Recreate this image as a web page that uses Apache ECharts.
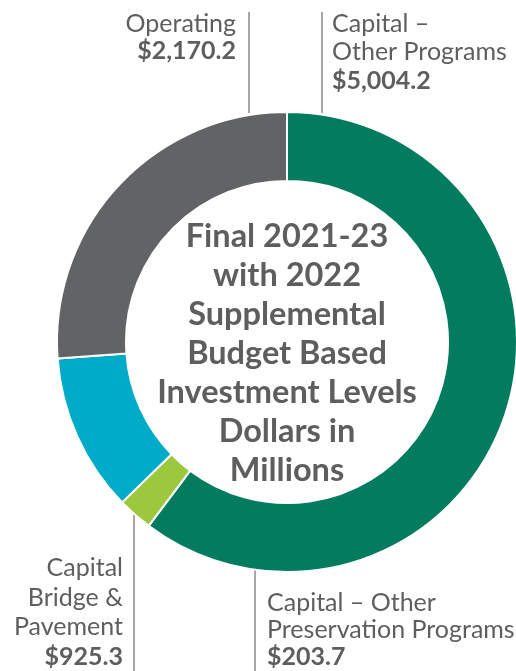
<!DOCTYPE html>
<html>
<head>
<meta charset="utf-8">
<script src="https://cdn.jsdelivr.net/npm/echarts@6/dist/echarts.min.js"></script>
<style>
  html, body { margin: 0; padding: 0; background: #ffffff; }
  #chart { width: 516px; height: 671px; }
</style>
</head>
<body>
<div id="chart"></div>
<script>
// Budget categories, in clockwise order from 12 o'clock
const categories = [
  'Capital – Other Programs',
  'Capital – Other Preservation Programs',
  'Capital Bridge & Pavement',
  'Operating'
];
// Dollars in millions
const values = [5004.2, 203.7, 925.3, 2170.2];
// How each category name is broken into lines in its callout
const labelLines = [
  ['Capital –', 'Other Programs'],
  ['Capital – Other', 'Preservation Programs'],
  ['Capital', 'Bridge &', 'Pavement'],
  ['Operating']
];
const centerTitle = ['Final 2021-23', 'with 2022', 'Supplemental', 'Budget Based', 'Investment Levels', 'Dollars in', 'Millions'];

const colors = ['#037b5f', '#9bc83c', '#00abc8', '#626365'];
const textColor = '#5e5e5e';
const font = 'Lato, "Open Sans", sans-serif';

const fmt = v => '$' + v.toLocaleString('en-US', { minimumFractionDigits: 1, maximumFractionDigits: 1 });

// Callout placement: leader line x, its top/bottom, text anchor, alignment and line spacing
const callouts = [
  { idx: 0, lineX: 322, y1: 12, y2: 113, tx: 332, ty: 9.5, align: 'left', lh: 28.5 },
  { idx: 1, lineX: 255, y1: 570, y2: 671, tx: 267, ty: 589.5, align: 'left', lh: 27 },
  { idx: 2, lineX: 134, y1: 514, y2: 671, tx: 123, ty: 553, align: 'right', lh: 29.7 },
  { idx: 3, lineX: 249, y1: 12, y2: 113, tx: 236, ty: 10.5, align: 'right', lh: 27 }
];

const graphics = [];
callouts.forEach(c => {
  graphics.push({
    type: 'line',
    shape: { x1: c.lineX, y1: c.y1, x2: c.lineX, y2: c.y2 },
    style: { stroke: '#8a8a8a', lineWidth: 1.5 },
    z: 1
  });
  const lines = labelLines[c.idx].map(s => '{n|' + s + '}');
  lines.push('{v|' + fmt(values[c.idx]) + '}');
  graphics.push({
    type: 'text',
    x: c.tx,
    y: c.ty,
    style: {
      text: lines.join('\n'),
      align: c.align,
      verticalAlign: 'top',
      rich: {
        n: { fontFamily: font, fontSize: 25, fill: textColor, lineHeight: c.lh, align: c.align },
        v: { fontFamily: font, fontSize: 25, fontWeight: 'bold', fill: textColor, lineHeight: c.lh, align: c.align }
      }
    },
    z: 2
  });
});

graphics.push({
  type: 'text',
  x: 287,
  y: 353.5,
  style: {
    text: centerTitle.join('\n'),
    align: 'center',
    verticalAlign: 'middle',
    fontFamily: font,
    fontSize: 32.5,
    fontWeight: 'bold',
    lineHeight: 38.9,
    fill: textColor
  },
  z: 3
});

const chart = echarts.init(document.getElementById('chart'), null, { renderer: 'canvas' });
chart.setOption({
  animation: false,
  backgroundColor: '#ffffff',
  color: colors,
  series: [{
    type: 'pie',
    center: [287, 342],
    radius: [161, 230],
    startAngle: 90,
    clockwise: true,
    label: { show: false },
    labelLine: { show: false },
    emphasis: { disabled: true },
    itemStyle: { borderColor: '#ffffff', borderWidth: 2 },
    data: categories.map((name, i) => ({ name, value: values[i] }))
  }],
  graphic: graphics
});
</script>
</body>
</html>
